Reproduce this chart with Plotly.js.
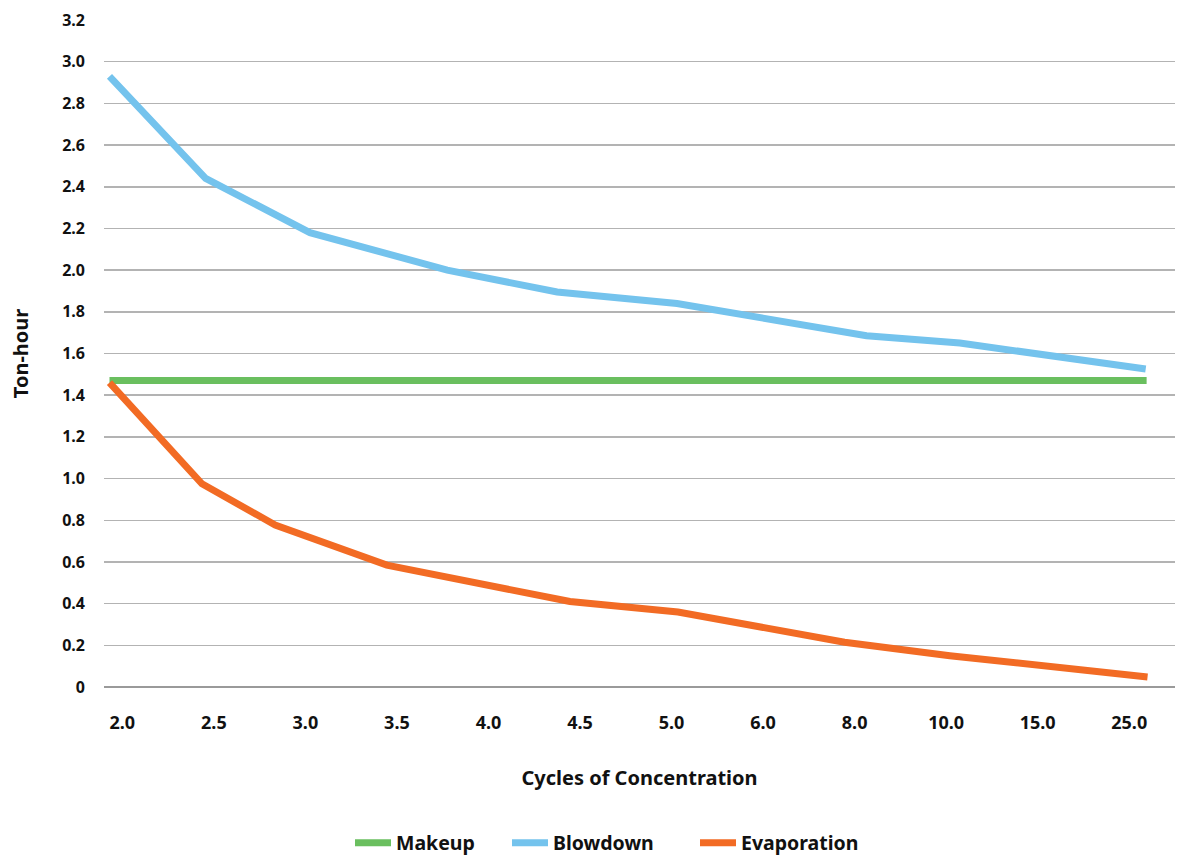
<!DOCTYPE html>
<html>
<head>
<meta charset="utf-8">
<script src="https://cdn.plot.ly/plotly-3.0.1.min.js"></script>
<style>html,body{margin:0;padding:0;background:#fff;}#chart{width:1188px;height:860px;}</style>
</head>
<body>
<div id="chart"></div>
<script>
// Category tick labels (evenly spaced on the axis)
var categories = ["2.0","2.5","3.0","3.5","4.0","4.5","5.0","6.0","8.0","10.0","15.0","25.0"];

// Series: positions along category axis (index units) and values (Ton-hour)
var makeupX = [-0.14, 11.19];
var makeupY = [1.47, 1.47];

var blowdownX = [-0.14, 0.91, 2.05, 3.55, 4.75, 6.06, 8.13, 9.15, 11.18];
var blowdownY = [2.93, 2.44, 2.18, 2.00, 1.895, 1.84, 1.685, 1.65, 1.526];

var evaporationX = [-0.14, 0.87, 1.67, 2.89, 4.89, 6.07, 7.89, 9.04, 11.2];
var evaporationY = [1.46, 0.975, 0.777, 0.585, 0.41, 0.36, 0.215, 0.15, 0.048];

var yTicks = [0,0.2,0.4,0.6,0.8,1.0,1.2,1.4,1.6,1.8,2.0,2.2,2.4,2.6,2.8,3.0,3.2];
var yTickText = yTicks.map(function(v){ return v === 0 ? "0" : v.toFixed(1); });

var FONT = "'Noto Sans', 'Open Sans', sans-serif";
var legFont = {family: FONT, size: 19.5, weight: "bold", color: "#111"};

var traces = [
  {x: makeupX, y: makeupY, name: "Makeup", mode: "lines", line: {color: "#6abf5f", width: 7}, cliponaxis: false, legend: "legend"},
  {x: blowdownX, y: blowdownY, name: "Blowdown", mode: "lines", line: {color: "#74c3ed", width: 7}, cliponaxis: false, legend: "legend2"},
  {x: evaporationX, y: evaporationY, name: "Evaporation", mode: "lines", line: {color: "#f26b24", width: 7}, cliponaxis: false, legend: "legend3"}
];

function leg(px) {
  return {orientation: "h", x: (px - 104) / 1071, xanchor: "left", y: -0.2339, yanchor: "middle",
          font: legFont, itemwidth: 36, bgcolor: "rgba(0,0,0,0)"};
}

var layout = {
  width: 1188, height: 860,
  paper_bgcolor: "#fff", plot_bgcolor: "#fff",
  margin: {l: 104, r: 13, t: 20, b: 173, autoexpand: false},
  font: {family: FONT, color: "#111", size: 16, weight: "bold"},
  showlegend: true,
  legend: leg(350),
  legend2: leg(507),
  legend3: leg(695),
  xaxis: {
    range: [-0.2, 11.5], tickmode: "array",
    tickvals: categories.map(function(c, i){ return i; }), ticktext: categories,
    showgrid: false, zeroline: false, showline: false, ticks: "",
    ticklabelstandoff: 23, automargin: false,
    tickfont: {family: FONT, size: 18, weight: "bold", color: "#111"},
    title: {text: "Cycles of Concentration", standoff: 37, font: {family: FONT, size: 20, weight: "bold", color: "#111"}},
    fixedrange: true
  },
  yaxis: {
    range: [0, 3.2], tickmode: "array", tickvals: yTicks, ticktext: yTickText,
    showgrid: true, gridcolor: "#b3b3b3", gridwidth: 1.5,
    zeroline: true, zerolinecolor: "#9a9a9a", zerolinewidth: 2.5,
    showline: false, ticks: "", ticklabelstandoff: 18, automargin: false,
    tickfont: {family: FONT, size: 16, weight: "bold", color: "#111"},
    title: {text: "Ton-hour", standoff: 28, font: {family: FONT, size: 20, weight: "bold", color: "#111"}},
    fixedrange: true
  }
};

Plotly.newPlot("chart", traces, layout, {displayModeBar: false, staticPlot: true});
</script>
</body>
</html>
